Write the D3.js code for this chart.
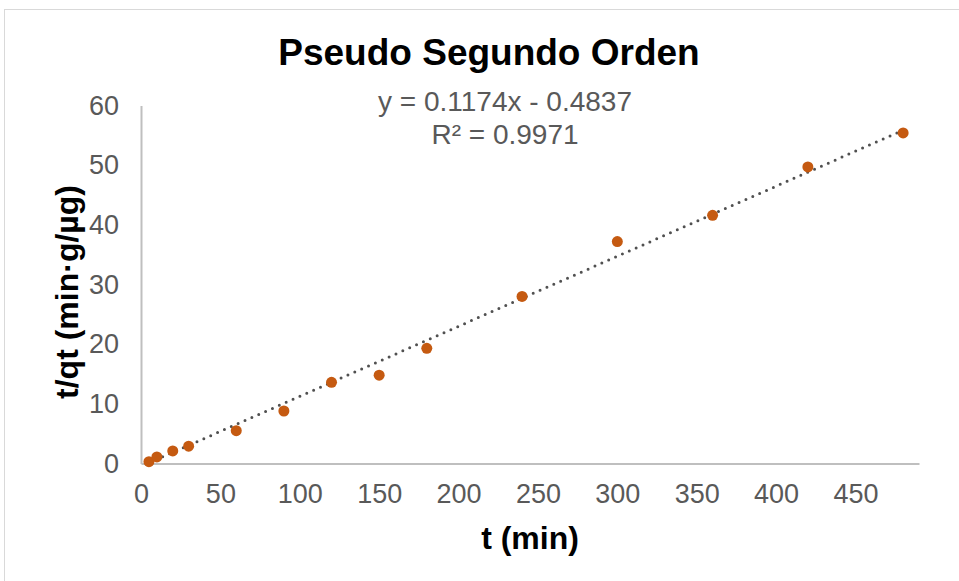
<!DOCTYPE html>
<html>
  <head>
    <meta charset="utf-8" />
    <script src="https://d3js.org/d3.v7.min.js"></script>
    <style>
      body { margin: 0; background: #fff; }
      text { font-family: "Liberation Sans", Arial, sans-serif; }
      .tick text { fill: #595959; font-size: 27px; }
    </style>
  </head>
  <body>
    <svg id="chart" width="959" height="581"></svg>
    <script>
      // data
      const tMin = [5, 10, 20, 30, 60, 90, 120, 150, 180, 240, 300, 360, 420, 480];
      const tOverQt = [0.3, 1.1, 2.1, 2.9, 5.5, 8.8, 13.6, 14.8, 19.3, 28.0, 37.2, 41.6, 49.7, 55.4];
      const xTicks = [0, 50, 100, 150, 200, 250, 300, 350, 400, 450];
      const yTicks = [0, 10, 20, 30, 40, 50, 60];
      const slope = 0.1174, intercept = -0.4837;

      const svg = d3.select("#chart");

      // chart area border
      svg.append("rect")
        .attr("x", 4.5).attr("y", 9.5)
        .attr("width", 980).attr("height", 600)
        .attr("fill", "#fff").attr("stroke", "#d9d9d9");

      const x = d3.scaleLinear().domain([0, 490]).range([141, 919]);
      const y = d3.scaleLinear().domain([0, 60]).range([463.5, 105.5]);

      // axes
      const xAxis = svg.append("g")
        .attr("transform", `translate(0,${y(0)})`)
        .call(d3.axisBottom(x).tickValues(xTicks).tickSize(0).tickPadding(20));
      xAxis.select(".domain").attr("stroke", "#bfbfbf").attr("stroke-width", 2);

      const yAxis = svg.append("g")
        .attr("transform", `translate(${x(0)},0)`)
        .call(d3.axisLeft(y).tickValues(yTicks).tickSize(0).tickPadding(22));
      yAxis.select(".domain").attr("stroke", "#bfbfbf").attr("stroke-width", 2);

      // trendline
      const tr = d3.extent(tMin);
      svg.append("line")
        .attr("x1", x(tr[0])).attr("y1", y(slope * tr[0] + intercept))
        .attr("x2", x(tr[1])).attr("y2", y(slope * tr[1] + intercept))
        .attr("stroke", "#505050")
        .attr("stroke-width", 3)
        .attr("stroke-linecap", "round")
        .attr("stroke-dasharray", "0 7.5");

      // points
      svg.append("g")
        .selectAll("circle")
        .data(tMin.map((t, i) => [t, tOverQt[i]]))
        .join("circle")
        .attr("cx", d => x(d[0]))
        .attr("cy", d => y(d[1]))
        .attr("r", 5.5)
        .attr("fill", "#c55a11");

      // titles
      svg.append("text")
        .attr("x", 489).attr("y", 65)
        .attr("text-anchor", "middle")
        .attr("font-size", 37).attr("font-weight", "bold")
        .text("Pseudo Segundo Orden");

      svg.append("text")
        .attr("x", 530).attr("y", 549)
        .attr("text-anchor", "middle")
        .attr("font-size", 32).attr("font-weight", "bold")
        .text("t (min)");

      svg.append("text")
        .attr("transform", "translate(78,292) rotate(-90)")
        .attr("text-anchor", "middle")
        .attr("font-size", 32).attr("font-weight", "bold")
        .text("t/qt (min·g/µg)");

      // equation label
      const eq = svg.append("text")
        .attr("text-anchor", "middle")
        .attr("fill", "#595959")
        .attr("font-size", 28);
      eq.append("tspan").attr("x", 505).attr("y", 111)
        .text(`y = ${slope}x - ${Math.abs(intercept)}`);
      eq.append("tspan").attr("x", 505).attr("y", 144)
        .text("R² = 0.9971");
    </script>
  </body>
</html>
